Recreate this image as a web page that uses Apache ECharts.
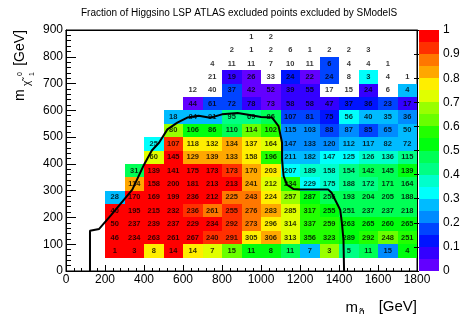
<!DOCTYPE html>
<html><head><meta charset="utf-8">
<script src="https://cdn.jsdelivr.net/npm/echarts@6/dist/echarts.min.js"></script>
<style>html,body{margin:0;padding:0;background:#fff}#c{width:463px;height:314px}</style>
</head><body><div id="c"></div>
<script>
// ---- data ----
const binWidthX = 100, binWidthY = 50;
const rowBottom = [850,800,750,700,650,600,550,500,450,400,350,300,250,200,150,100,50];
const rowFirstX = [900,800,700,700,600,600,500,500,400,400,300,300,200,200,200,200,200];
const n850 = [1,2];
const f850 = [0,0];
const n800 = [2,1,2,6,1,2,2,3];
const f800 = [0,0,0,0,0,0,0,0];
const n750 = [4,11,11,7,10,11,6,4,4,1];
const f750 = [0,0,0,0,0,0,0.17,0,0,0];
const n700 = [21,19,26,33,24,22,24,8,3,4,1];
const f700 = [0,0.053,0.038,0,0.125,0.045,0.167,0,0.333,0,0];
const n650 = [12,40,37,42,52,39,55,17,15,24,6,4];
const f650 = [0,0,0.162,0.024,0.038,0.077,0.055,0,0,0.083,0,0.25];
const n600 = [44,61,72,78,73,58,58,47,37,36,23,17];
const f600 = [0.023,0.164,0.167,0.077,0.041,0.069,0.052,0.064,0.135,0.139,0.174,0.059];
const n550 = [18,84,91,95,69,86,107,81,75,56,40,35,36];
const f550 = [0.278,0.25,0.275,0.42,0.42,0.465,0.187,0.16,0.12,0.32,0.275,0.257,0.222];
const n500 = [80,106,86,110,114,102,115,103,88,87,85,65,50];
const f500 = [0.675,0.528,0.5,0.473,0.614,0.569,0.226,0.223,0.193,0.23,0.165,0.215,0.28];
const n450 = [25,107,118,132,134,137,164,147,133,120,112,117,82,72];
const f450 = [0.32,0.925,0.78,0.77,0.82,0.78,0.72,0.23,0.23,0.21,0.27,0.26,0.26,0.25];
const n400 = [60,145,129,139,133,158,196,211,182,147,125,126,136,115];
const f400 = [0.717,0.97,0.81,0.82,0.83,0.77,0.57,0.29,0.26,0.32,0.336,0.365,0.38,0.42];
const n350 = [31,139,141,175,173,173,170,203,207,189,158,154,142,145,139];
const f350 = [0.484,0.97,0.97,0.97,0.96,0.92,0.83,0.76,0.33,0.355,0.38,0.42,0.46,0.47,0.52];
const n300 = [114,158,200,181,213,213,241,212,234,229,175,188,172,171,164];
const f300 = [0.82,0.97,0.98,0.97,0.96,0.955,0.83,0.72,0.57,0.33,0.36,0.43,0.43,0.46,0.47];
const n250 = [28,170,169,199,236,212,225,243,224,257,287,256,193,204,205,188];
const f250 = [0.25,0.98,0.98,0.98,0.97,0.96,0.87,0.865,0.77,0.67,0.53,0.48,0.46,0.46,0.47,0.46];
const n200 = [40,195,215,232,236,261,255,276,283,285,317,255,251,237,237,218];
const f200 = [0.975,0.97,0.97,0.96,0.94,0.87,0.91,0.87,0.82,0.72,0.57,0.52,0.49,0.48,0.48,0.47];
const n150 = [50,237,239,237,229,234,292,273,296,314,337,259,263,265,260,265];
const f150 = [0.98,0.98,0.97,0.97,0.96,0.96,0.92,0.87,0.77,0.72,0.59,0.56,0.53,0.53,0.53,0.53];
const n100 = [46,234,263,261,267,240,291,305,306,313,356,323,289,292,248,251];
const f100 = [0.98,0.98,0.97,0.97,0.96,0.93,0.92,0.78,0.82,0.74,0.59,0.57,0.54,0.56,0.62,0.57];
const n50 = [1,3,8,14,14,7,15,11,8,11,7,3,5,11,15,4];
const f50 = [1,1,0.75,1,0.786,0.714,0.6,0.545,0.5,0.455,0.286,0.667,0.4,0.455,0.2,0.5];
const exclX = [123,123,130,170,230,290,340,400,440,477,520,571,622,680,740,800,880,950,1000,1057,1090,1108,1108,1116,1133,1167,1202,1345,1363,1380,1406,1415,1423,1426];
const exclY = [0,150,157,157,208,260,304,397,450,479,529,554,573,580,572,585,590,582,575,573,541,479,416,354,322,306,304,304,291,266,229,179,116,0];

const rowCounts = [n850,n800,n750,n700,n650,n600,n550,n500,n450,n400,n350,n300,n250,n200,n150,n100,n50];
const rowFracs  = [f850,f800,f750,f700,f650,f600,f550,f500,f450,f400,f350,f300,f250,f200,f150,f100,f50];

// ---- ROOT "pretty" palette, 20 contours ----
function hlsColor(h){
  const l=0.5,s=1;
  const c=(1-Math.abs(2*l-1))*s, hp=h/60, x=c*(1-Math.abs(hp%2-1));
  let r=0,g=0,b=0;
  if(hp<1){r=c;g=x;}else if(hp<2){r=x;g=c;}else if(hp<3){g=c;b=x;}else if(hp<4){g=x;b=c;}else if(hp<5){r=x;b=c;}else{r=c;b=x;}
  const m=l-c/2, to=v=>Math.round((v+m)*255);
  return 'rgb('+to(r)+','+to(g)+','+to(b)+')';
}
function binColor(i){
  const j=Math.floor((i+0.99)*50/20);
  return hlsColor(280-(j+1)*5.6);
}
function fracColor(f){
  let i=Math.floor(f*20); if(i>19)i=19; if(i<0)i=0;
  return binColor(i);
}

const cells=[], labels=[];
rowBottom.forEach((yb,r)=>{
  rowCounts[r].forEach((n,k)=>{
    const xl=rowFirstX[r]+k*binWidthX;
    cells.push([xl, yb, n, rowFracs[r][k]]);
    labels.push([xl+binWidthX/2, yb+binWidthY/2, n]);
  });
});
const palette=[]; for(let i=0;i<20;i++) palette.push([i]);
const font='Liberation Sans';
const txt=(o)=>Object.assign({fill:'#000',fontFamily:font},o);

const chart=echarts.init(document.getElementById('c'),null,{renderer:'canvas'});
chart.setOption({
  animation:false,
  backgroundColor:'#fff',
  grid:[
    {left:66,right:46,top:30,bottom:43,show:true,borderColor:'#000',borderWidth:1,backgroundColor:'#fff'},
    {left:419,width:20,top:30,bottom:43}
  ],
  xAxis:[
    {type:'value',gridIndex:0,min:0,max:1800,interval:200,z:10,
     axisLine:{show:true,onZero:false,lineStyle:{color:'#000',width:1}},
     axisTick:{show:true,inside:true,length:6,lineStyle:{color:'#000'}},
     minorTick:{show:true,splitNumber:5,length:3,lineStyle:{color:'#000'}},
     axisLabel:{fontSize:12,color:'#000',margin:3,fontFamily:font,showMinLabel:true,showMaxLabel:true,formatter:v=>String(v)},
     splitLine:{show:false}},
    {type:'value',gridIndex:1,min:0,max:1,show:false},
    {type:'value',gridIndex:0,min:0,max:1800,position:'top',z:10,
     axisLine:{show:true,onZero:false,lineStyle:{color:'#000'}},axisTick:{show:false},axisLabel:{show:false},splitLine:{show:false}}
  ],
  yAxis:[
    {type:'value',gridIndex:0,min:0,max:900,interval:100,z:10,
     axisLine:{show:true,onZero:false,lineStyle:{color:'#000',width:1}},
     axisTick:{show:true,inside:true,length:10,lineStyle:{color:'#000'}},
     minorTick:{show:true,splitNumber:5,length:5,lineStyle:{color:'#000'}},
     axisLabel:{fontSize:12,color:'#000',margin:3,fontFamily:font,showMinLabel:true,showMaxLabel:true,formatter:v=>String(v)},
     splitLine:{show:false}},
    {type:'value',gridIndex:1,min:0,max:1,interval:0.1,position:'right',z:10,
     axisLine:{show:false},
     axisTick:{show:true,inside:true,length:5,lineStyle:{color:'#000'}},
     axisLabel:{fontSize:12,color:'#000',margin:4,fontFamily:font,showMinLabel:true,showMaxLabel:true},
     splitLine:{show:false}},
    {type:'value',gridIndex:0,min:0,max:900,position:'right',z:10,
     axisLine:{show:true,onZero:false,lineStyle:{color:'#000'}},axisTick:{show:false},axisLabel:{show:false},splitLine:{show:false}}
  ],
  series:[
    {type:'custom',xAxisIndex:0,yAxisIndex:0,data:cells,z:2,silent:true,
     renderItem:function(params,api){
       const x=api.value(0),y=api.value(1),f=api.value(3);
       if(!(f>0)) return null;
       const p0=api.coord([x,y+binWidthY]), p1=api.coord([x+binWidthX,y]);
       const x0=Math.round(p0[0]),y0=Math.round(p0[1]),x1=Math.round(p1[0]),y1=Math.round(p1[1]);
       return {type:'rect',shape:{x:x0,y:y0,width:x1-x0,height:y1-y0},style:{fill:fracColor(f)}};
     }},
    {type:'scatter',xAxisIndex:0,yAxisIndex:0,data:labels,z:4,silent:true,symbolSize:1,
     itemStyle:{color:'rgba(0,0,0,0)'},
     label:{show:true,position:'inside',formatter:p=>String(p.value[2]),color:'#000',fontSize:7.5,fontWeight:'bold',fontFamily:font,textBorderWidth:0,textBorderColor:'transparent'}},
    {type:'custom',xAxisIndex:1,yAxisIndex:1,data:palette,z:2,silent:true,
     renderItem:function(params,api){
       const i=api.value(0);
       const p0=api.coord([0,(i+1)/20]), p1=api.coord([1,i/20]);
       return {type:'rect',shape:{x:p0[0],y:Math.round(p0[1]),width:p1[0]-p0[0],height:Math.round(p1[1])-Math.round(p0[1])},style:{fill:binColor(i)}};
     }},
    {type:'line',xAxisIndex:0,yAxisIndex:0,z:6,silent:true,showSymbol:false,symbol:'none',
     data:exclX.map((x,i)=>[x,exclY[i]]),lineStyle:{color:'#000',width:2}}
  ],
  graphic:[
    {type:'text',x:239,y:13,style:txt({text:'Fraction of Higgsino LSP ATLAS excluded points excluded by SModelS',align:'center',verticalAlign:'middle',fontSize:10})},
    {type:'text',x:358,y:308,style:txt({text:'m',align:'right',verticalAlign:'middle',fontSize:15})},
    {type:'text',x:359,y:313,style:txt({text:'g̃',align:'left',verticalAlign:'middle',fontSize:10})},
    {type:'text',x:417,y:307,style:txt({text:'[GeV]',align:'right',verticalAlign:'middle',fontSize:15})},
    {type:'text',x:20,y:30,rotation:Math.PI/2,style:txt({text:'[GeV]',align:'right',verticalAlign:'middle',fontSize:14})},
    {type:'text',x:20,y:101,rotation:Math.PI/2,style:txt({text:'m',align:'left',verticalAlign:'middle',fontSize:14})},
    {type:'text',x:27,y:86,rotation:Math.PI/2,style:txt({text:'χ̃',align:'left',verticalAlign:'middle',fontSize:10})},
    {type:'text',x:20,y:76,rotation:Math.PI/2,style:txt({text:'0',align:'left',verticalAlign:'middle',fontSize:7})},
    {type:'text',x:32,y:76,rotation:Math.PI/2,style:txt({text:'1',align:'left',verticalAlign:'middle',fontSize:7})}
  ]
});
</script></body></html>
